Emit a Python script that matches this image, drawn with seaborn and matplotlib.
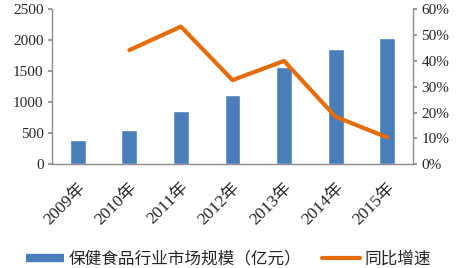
import matplotlib
matplotlib.use("Agg")
import matplotlib.pyplot as plt
from matplotlib.lines import Line2D
import seaborn as sns
import pandas as pd

years = ["2009年", "2010年", "2011年", "2012年", "2013年", "2014年", "2015年"]
market_size = [390, 560, 855, 1125, 1570, 1860, 2040]
growth_years = ["2010年", "2011年", "2012年", "2013年", "2014年", "2015年"]
growth = [44.2, 53.3, 32.6, 40.0, 18.4, 10.4]

bar_label = "保健食品行业市场规模（亿元）"
line_label = "同比增速"
left_ticks = [0, 500, 1000, 1500, 2000, 2500]
right_ticks = [0, 10, 20, 30, 40, 50, 60]

sns.set_theme(style="white")
plt.rcParams['font.family'] = ['Liberation Serif', 'Noto Sans CJK SC', 'DejaVu Sans']

bar_color = "#4A7EBB"
line_color = "#E46C0A"
spine_color = "#8C8C8C"

fig = plt.figure(figsize=(4.57, 2.68), dpi=100)
ax = fig.add_axes([52/457, 1 - 164.3/268, (413-52)/457, (164.3-9.3)/268])

df_bar = pd.DataFrame({"year": years, "size": market_size})
sns.barplot(data=df_bar, x="year", y="size", color=bar_color, width=0.31,
            saturation=1, ax=ax)
ax.set_xlim(-0.5, len(years) - 0.5)
ax.set_ylim(0, 2500)
ax.set_yticks(left_ticks)
ax.set_yticklabels([str(t) for t in left_ticks], fontsize=11)
ax.set_xlabel("")
ax.set_ylabel("")
ax.set_xticks(range(len(years)))
ax.set_xticklabels(years, rotation=45, ha="right", rotation_mode="anchor", fontsize=12.5)
ax.tick_params(axis="x", length=0, pad=11)
ax.tick_params(axis="y", length=3, color=spine_color, direction="out", pad=3)

ax2 = ax.twinx()
df_line = pd.DataFrame({"x": [years.index(y) for y in growth_years], "g": growth})
sns.lineplot(data=df_line, x="x", y="g", color=line_color, linewidth=3, ax=ax2)
ax2.set_ylim(0, 60)
ax2.set_yticks(right_ticks)
ax2.set_yticklabels([f"{t}%" for t in right_ticks], fontsize=11)
ax2.set_ylabel("")
ax2.set_xlim(-0.5, len(years) - 0.5)
ax2.tick_params(axis="y", length=3, color=spine_color, direction="out", pad=3)

for a in (ax, ax2):
    a.spines["top"].set_visible(False)
    for s in ("left", "bottom", "right"):
        a.spines[s].set_color(spine_color)
        a.spines[s].set_linewidth(1)
ax.spines["right"].set_visible(False)
ax2.spines["left"].set_visible(False)
ax2.spines["bottom"].set_visible(False)

handles = [Line2D([0], [0], color=bar_color, lw=6, solid_capstyle="butt"),
           Line2D([0], [0], color=line_color, lw=3, solid_capstyle="round")]
fig.legend(handles, [bar_label, line_label], loc="center", bbox_to_anchor=(0.5, 1 - 259/268),
           ncol=2, frameon=False, handlelength=2.3, handletextpad=0.3,
           columnspacing=1.2, prop={'family': ['Noto Sans CJK SC', 'DejaVu Sans'], 'size': 12})

fig.savefig("out.png", dpi=100)
